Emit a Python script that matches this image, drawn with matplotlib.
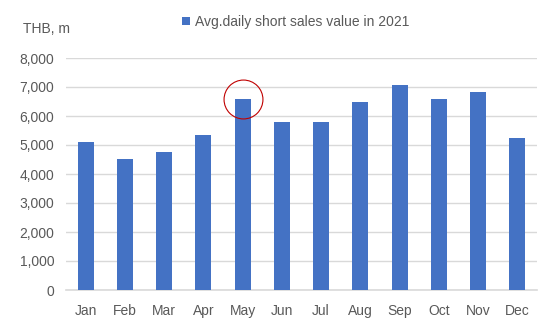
import numpy as np
import matplotlib.pyplot as plt

months = ["Jan", "Feb", "Mar", "Apr", "May", "Jun",
          "Jul", "Aug", "Sep", "Oct", "Nov", "Dec"]
short_sales = [5110, 4520, 4750, 5350, 6580, 5780,
               5780, 6500, 7060, 6580, 6820, 5230]
highlight = "May"

BAR = "#4472C4"
GRID = "#D9D9D9"
TEXT = "#595959"

plt.rcParams["font.family"] = ["Liberation Sans", "DejaVu Sans"]

fig = plt.figure(figsize=(5.55, 3.34), dpi=100)
ax = fig.add_axes([66 / 555, 1 - 290 / 334, 471 / 555, 232 / 334])

x = np.arange(len(months))
ax.bar(x, short_sales, width=0.41, color=BAR, zorder=3,
       label="Avg.daily short sales value in 2021")

ax.set_xlim(-0.5, len(months) - 0.5)
ax.set_ylim(0, 8000)
ax.set_yticks(range(0, 8001, 1000))
ax.yaxis.set_major_formatter(plt.FuncFormatter(lambda v, _: f"{int(v):,}"))
ax.set_xticks(x)
ax.set_xticklabels(months)
ax.grid(axis="y", color=GRID, linewidth=1, zorder=0)
ax.tick_params(length=0, labelsize=10, labelcolor=TEXT)
ax.tick_params(axis="x", pad=10)
ax.tick_params(axis="y", pad=8.5)
for side in ("top", "right", "left"):
    ax.spines[side].set_visible(False)
ax.spines["bottom"].set_color(GRID)
ax.spines["bottom"].set_linewidth(1.2)

# red ring around the May bar top
i = months.index(highlight)
ax.plot(i, short_sales[i], marker="o", markersize=28, markerfacecolor="none",
        markeredgecolor="#C00000", markeredgewidth=0.8, zorder=4, clip_on=False)

fig.legend(loc="center", bbox_to_anchor=(296 / 555, 1 - 22 / 334), frameon=False,
           fontsize=10, labelcolor=TEXT, handlelength=0.55, handleheight=0.55,
           handletextpad=0.4)
fig.text(23 / 555, 1 - 29 / 334, "THB, m", fontsize=10, color=TEXT, va="center")

fig.savefig("out.png", dpi=100)
